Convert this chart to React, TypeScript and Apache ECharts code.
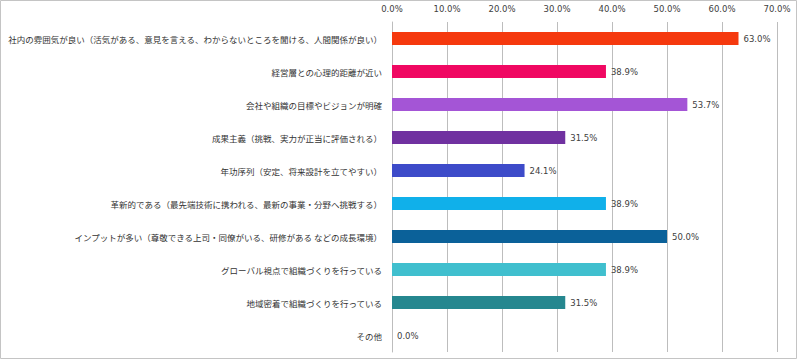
import React, { useEffect, useRef } from "react";
import * as echarts from "echarts";

const categories = [
  "社内の雰囲気が良い（活気がある、意見を言える、わからないところを聞ける、人間関係が良い）",
  "経営層との心理的距離が近い",
  "会社や組織の目標やビジョンが明確",
  "成果主義（挑戦、実力が正当に評価される）",
  "年功序列（安定、将来設計を立てやすい）",
  "革新的である（最先端技術に携われる、最新の事業・分野へ挑戦する）",
  "インプットが多い（尊敬できる上司・同僚がいる、研修がある などの成長環境）",
  "グローバル視点で組織づくりを行っている",
  "地域密着で組織づくりを行っている",
  "その他",
];
const values = [63.0, 38.9, 53.7, 31.5, 24.1, 38.9, 50.0, 38.9, 31.5, 0.0];
const barColors = [
  "#F5390E",
  "#F00862",
  "#A455D6",
  "#7031A0",
  "#3D4BC9",
  "#10B0EA",
  "#0B6199",
  "#40BFCE",
  "#25878F",
  "#888888",
];

export default function App() {
  const ref = useRef<HTMLDivElement>(null);
  useEffect(() => {
    if (!ref.current) return;
    const chart = echarts.init(ref.current, undefined, { renderer: "svg" });
    chart.setOption({
      animation: false,
      backgroundColor: "#ffffff",
      graphic: [
        {
          type: "rect",
          shape: { x: 0.5, y: 0.5, width: 796, height: 358 },
          style: { fill: "none", stroke: "#c4c4c4", lineWidth: 1 },
          silent: true,
        },
      ],
      grid: { left: 392, right: 23, top: 22, bottom: 10, containLabel: false },
      xAxis: {
        type: "value",
        position: "top",
        min: 0,
        max: 70,
        interval: 10,
        axisLine: { show: false },
        axisTick: { show: false },
        splitLine: { show: true, lineStyle: { color: "#bdbdbd", width: 1 } },
        axisLabel: {
          margin: 9,
          fontSize: 8.5,
          color: "#404040",
          fontFamily: "DejaVu Sans",
          formatter: (v: number) => v.toFixed(1) + "%",
        },
      },
      yAxis: {
        type: "category",
        inverse: true,
        data: categories,
        axisLine: { show: true, lineStyle: { color: "#bdbdbd" } },
        axisTick: { show: false },
        axisLabel: {
          margin: 10,
          fontSize: 8.5,
          color: "#333333",
          fontFamily: "Noto Sans CJK JP",
        },
      },
      series: [
        {
          type: "bar",
          data: values.map((v, i) => ({ value: v, itemStyle: { color: barColors[i] } })),
          barWidth: 13,
          label: {
            show: true,
            position: "right",
            distance: 5,
            fontSize: 8.5,
            color: "#404040",
            fontFamily: "DejaVu Sans",
            formatter: (p: any) => Number(p.value).toFixed(1) + "%",
          },
        },
      ],
    });
    return () => chart.dispose();
  }, []);
  return (
    <div
      ref={ref}
      style={{ position: "fixed", left: 0, top: 0, width: 800, height: 362 }}
    />
  );
}
